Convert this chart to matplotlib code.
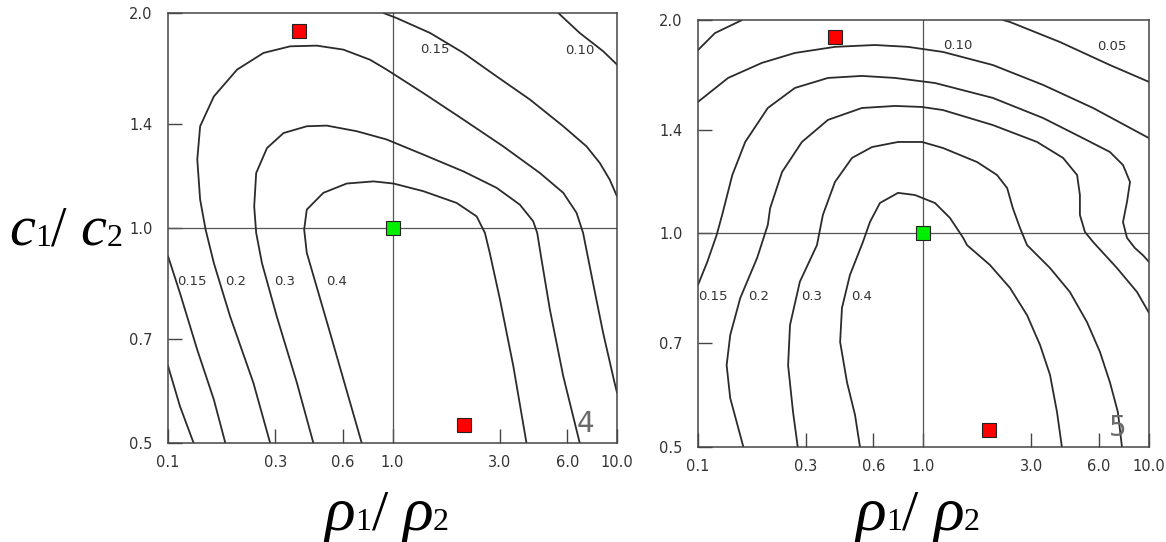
import numpy as np
import matplotlib.pyplot as plt
from matplotlib.offsetbox import TextArea, HPacker, AnnotationBbox

# axis ticks (both axes logarithmic)
rho_ticks = [0.1, 0.3, 0.6, 1.0, 3.0, 6.0, 10.0]
rho_tick_labels = ["0.1", "0.3", "0.6", "1.0", "3.0", "6.0", "10.0"]
c_ticks = [0.5, 0.7, 1.0, 1.4, 2.0]
c_tick_labels = ["0.5", "0.7", "1.0", "1.4", "2.0"]

# ---- figure 4 contours (rho1/rho2, c1/c2) ----
fig4_040_rho = [0.729, 0.527, 0.415, 0.404, 0.415, 0.492, 0.625, 0.822, 1.01, 1.37,
                1.93, 2.37, 2.58, 2.71, 3.01, 3.45, 3.95]
fig4_040_c = [0.5, 0.713, 0.923, 0.995, 1.061, 1.12, 1.154, 1.162, 1.154, 1.126,
              1.084, 1.038, 0.984, 0.923, 0.794, 0.641, 0.5]
fig4_030_rho = [0.444, 0.375, 0.305, 0.262, 0.247, 0.242, 0.247, 0.276, 0.327, 0.415,
                0.509, 0.693, 0.942, 1.37, 2.07, 2.91, 3.69, 4.23, 4.41, 4.61, 5.02,
                5.76, 6.82]
fig4_030_c = [0.5, 0.607, 0.752, 0.893, 0.984, 1.072, 1.194, 1.294, 1.358, 1.388,
              1.391, 1.366, 1.33, 1.267, 1.2, 1.138, 1.078, 1.022, 0.984, 0.903, 0.769,
              0.62, 0.5]
fig4_020_rho = [0.285, 0.240, 0.189, 0.160, 0.147, 0.139, 0.135, 0.139, 0.160, 0.203,
                0.266, 0.350, 0.460, 0.604, 0.794, 0.942, 1.37, 2.07, 3.11, 4.53, 5.76,
                6.6, 7.06, 7.82, 8.67, 9.75, 10.0]
fig4_020_c = [0.5, 0.607, 0.752, 0.893, 0.995, 1.096, 1.247, 1.388, 1.528, 1.666,
              1.758, 1.796, 1.8, 1.777, 1.72, 1.666, 1.545, 1.418, 1.301, 1.194, 1.12,
              1.05, 0.984, 0.837, 0.713, 0.607, 0.588]
fig4_015a_rho = [0.91, 1.04, 1.47, 2.07, 2.91, 4.09, 5.76, 7.31, 8.38, 9.27, 10.0]
fig4_015a_c = [2.0, 1.968, 1.875, 1.758, 1.63, 1.513, 1.388, 1.301, 1.233, 1.169, 1.107]
fig4_015b_rho = [0.1, 0.113, 0.135, 0.160, 0.180]
fig4_015b_c = [0.913, 0.811, 0.675, 0.575, 0.5]
fig4_010a_rho = [5.47, 6.82, 8.67, 10.0]
fig4_010a_c = [2.0, 1.875, 1.768, 1.693]
fig4_010b_rho = [0.1, 0.113, 0.130]
fig4_010b_c = [0.641, 0.563, 0.5]

# ---- figure 5 contours ----
fig5_040_rho = [0.523, 0.497, 0.458, 0.427, 0.435, 0.472, 0.539, 0.579, 0.641, 0.771,
                0.917, 1.125, 1.31, 1.5, 1.56, 1.97, 2.42, 2.88, 3.29, 3.64, 3.91, 4.11]
fig5_040_c = [0.5, 0.555, 0.617, 0.703, 0.785, 0.874, 0.973, 1.038, 1.104, 1.141,
              1.133, 1.104, 1.052, 0.986, 0.963, 0.903, 0.838, 0.767, 0.696, 0.632,
              0.56, 0.5]
fig5_030_rho = [0.277, 0.264, 0.251, 0.256, 0.283, 0.337, 0.358, 0.405, 0.482, 0.591,
                0.771, 0.985, 1.22, 1.73, 2.12, 2.35, 2.49, 2.68, 2.88, 3.64, 4.46,
                5.31, 6.06, 6.71, 7.28, 7.59]
fig5_030_c = [0.5, 0.56, 0.652, 0.743, 0.855, 0.963, 1.062, 1.182, 1.278, 1.324,
              1.346, 1.346, 1.32, 1.261, 1.209, 1.159, 1.086, 1.018, 0.963, 0.894,
              0.827, 0.75, 0.681, 0.617, 0.56, 0.5]
fig5_020_rho = [0.159, 0.139, 0.134, 0.139, 0.154, 0.183, 0.204, 0.209, 0.236, 0.289,
                0.377, 0.533, 0.748, 0.985, 1.22, 2.03, 3.19, 4.16, 4.8, 4.94, 4.94,
                5.2, 5.65, 7.21, 8.85, 10.0]
fig5_020_c = [0.5, 0.586, 0.652, 0.719, 0.811, 0.924, 1.028, 1.086, 1.221, 1.346,
              1.446, 1.503, 1.513, 1.508, 1.493, 1.422, 1.346, 1.278, 1.209, 1.133,
              1.062, 1.005, 0.973, 0.894, 0.827, 0.773]
fig5_015_rho = [0.1, 0.110, 0.121, 0.128, 0.142, 0.162, 0.204, 0.269, 0.377, 0.533,
                0.748, 1.125, 2.03, 3.39, 5.09, 6.71, 7.67, 8.24, 7.99, 7.67, 7.99,
                8.66, 9.4, 10.0]
fig5_015_c = [0.846, 0.912, 0.995, 1.062, 1.209, 1.346, 1.503, 1.604, 1.657, 1.668,
              1.657, 1.63, 1.553, 1.455, 1.363, 1.303, 1.249, 1.182, 1.108, 1.038,
              0.986, 0.954, 0.932, 0.912]
fig5_010_rho = [0.1, 0.136, 0.192, 0.269, 0.405, 0.609, 0.853, 1.22, 2.03, 3.39, 5.65, 10.0]
fig5_010_c = [1.533, 1.657, 1.74, 1.797, 1.833, 1.844, 1.833, 1.803, 1.728, 1.62, 1.503, 1.363]
fig5_005a_rho = [0.1, 0.119, 0.157]
fig5_005a_c = [1.814, 1.917, 2.0]
fig5_005b_rho = [2.25, 2.42, 4.03, 6.71, 10.0]
fig5_005b_c = [2.0, 1.987, 1.862, 1.728, 1.636]

# contour labels: text, rho, c
fig4_labels = ["0.15", "0.10", "0.15", "0.2", "0.3", "0.4"]
fig4_label_rho = [1.55, 6.82, 0.128, 0.2, 0.329, 0.561]
fig4_label_c = [1.78, 1.77, 0.842, 0.842, 0.842, 0.842]
fig5_labels = ["0.10", "0.05", "0.15", "0.2", "0.3", "0.4"]
fig5_label_rho = [1.42, 6.86, 0.117, 0.185, 0.32, 0.533]
fig5_label_c = [1.844, 1.833, 0.814, 0.814, 0.814, 0.814]

# marked points
fig4_red_rho = [0.383, 2.08]
fig4_red_c = [1.887, 0.530]
fig5_red_rho = [0.405, 1.95]
fig5_red_c = [1.892, 0.528]
ref_rho = [1.0]
ref_c = [1.0]

LINE = "#2b2b2b"
FRAME = "#454545"


def setup_axes(ax):
    ax.set_xscale("log")
    ax.set_yscale("log")
    ax.set_xlim(0.1, 10.0)
    ax.set_ylim(0.5, 2.0)
    ax.set_xticks(rho_ticks, rho_tick_labels)
    ax.set_yticks(c_ticks, c_tick_labels)
    ax.minorticks_off()
    ax.tick_params(direction="in", length=10, width=1.0, color=FRAME,
                   labelsize=10.5, labelcolor="#333333")
    ax.tick_params(axis="x", pad=9)
    ax.tick_params(axis="y", pad=11)
    for sp in ax.spines.values():
        sp.set_color(FRAME)
        sp.set_linewidth(1.1)
    ax.axvline(1.0, color="#555555", lw=0.9)
    ax.axhline(1.0, color="#555555", lw=0.9)


def draw_panel(ax, curves, labels, lab_rho, lab_c, red_rho, red_c, number):
    setup_axes(ax)
    for rho, c in curves:
        ax.plot(rho, c, color=LINE, lw=1.3, solid_joinstyle="round",
                solid_capstyle="round")
    for txt, x, y in zip(labels, lab_rho, lab_c):
        ax.text(x, y, txt, fontsize=9.5, color="#333333", ha="center", va="center")
    ax.plot(red_rho, red_c, "s", ms=9.5, mfc="#ff0000", mec="#222222", mew=0.8, zorder=5)
    ax.plot(ref_rho, ref_c, "s", ms=9.5, mfc="#00ee00", mec="#222222", mew=0.8, zorder=5)
    ax.text(0.93, 0.045, number, transform=ax.transAxes, fontsize=20,
            color="#6a6a6a", ha="center", va="center")


def ratio_label(fig, sym, big, small, slash, xy):
    italic = dict(family="Liberation Serif", style="italic", fontsize=big, color="black")
    plain = dict(family="Liberation Serif", fontsize=small, color="black")
    slash_p = dict(family="Liberation Serif", fontsize=slash, color="black")
    parts = [TextArea(sym, textprops=italic), TextArea("1", textprops=plain),
             TextArea("/ ", textprops=slash_p), TextArea(sym, textprops=italic),
             TextArea("2", textprops=plain)]
    box = HPacker(children=parts, align="baseline", pad=0, sep=0)
    ab = AnnotationBbox(box, xy, xycoords="figure fraction", frameon=False,
                        box_alignment=(0.5, 0.5))
    fig.add_artist(ab)


fig = plt.figure(figsize=(11.66, 5.42), dpi=100)
ax4 = fig.add_axes([0.1441, 0.1827, 0.3851, 0.7934])
ax5 = fig.add_axes([0.5986, 0.1753, 0.3868, 0.7878])

fig4_curves = [(fig4_040_rho, fig4_040_c), (fig4_030_rho, fig4_030_c),
               (fig4_020_rho, fig4_020_c), (fig4_015a_rho, fig4_015a_c),
               (fig4_015b_rho, fig4_015b_c), (fig4_010a_rho, fig4_010a_c),
               (fig4_010b_rho, fig4_010b_c)]
fig5_curves = [(fig5_040_rho, fig5_040_c), (fig5_030_rho, fig5_030_c),
               (fig5_020_rho, fig5_020_c), (fig5_015_rho, fig5_015_c),
               (fig5_010_rho, fig5_010_c), (fig5_005a_rho, fig5_005a_c),
               (fig5_005b_rho, fig5_005b_c)]

draw_panel(ax4, fig4_curves, fig4_labels, fig4_label_rho, fig4_label_c,
           fig4_red_rho, fig4_red_c, "4")
draw_panel(ax5, fig5_curves, fig5_labels, fig5_label_rho, fig5_label_c,
           fig5_red_rho, fig5_red_c, "5")

ratio_label(fig, "c", 42, 23, 40, (66 / 1166, 1 - 232 / 542))
ratio_label(fig, "\u03c1", 46, 23, 42, (387 / 1166, 1 - 515 / 542))
ratio_label(fig, "\u03c1", 46, 23, 42, (918 / 1166, 1 - 515 / 542))

fig.savefig("out.png", dpi=100)
